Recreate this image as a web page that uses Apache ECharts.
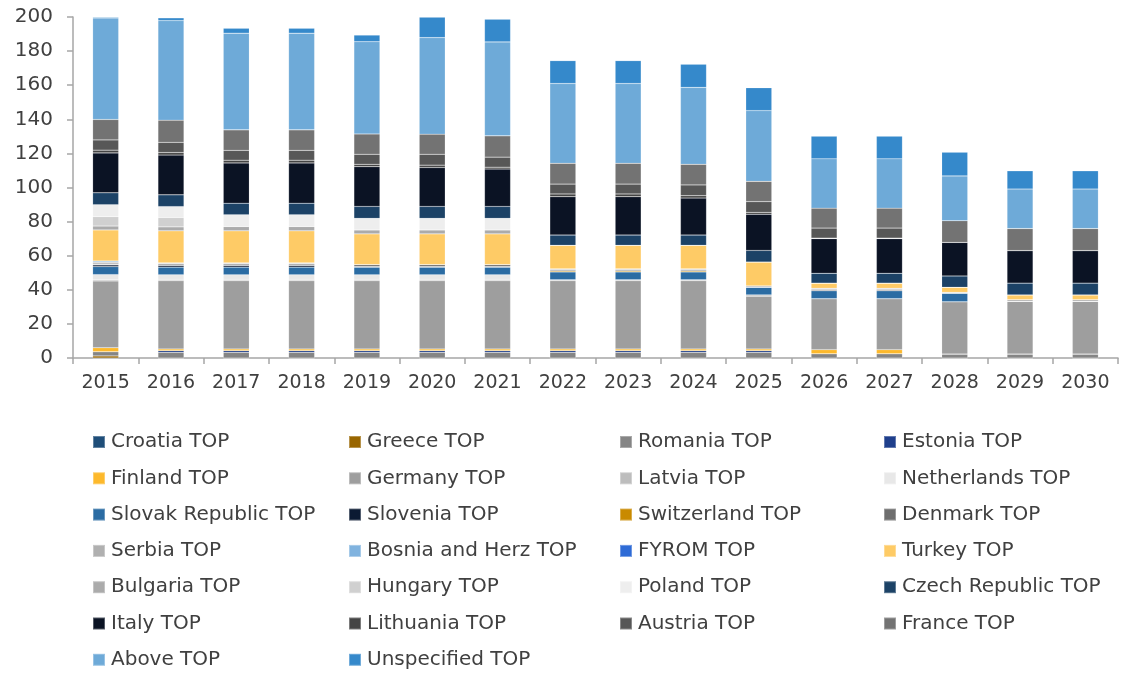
<!DOCTYPE html>
<html>
<head>
<meta charset="utf-8">
<script src="https://cdn.jsdelivr.net/npm/echarts@6/dist/echarts.min.js"></script>
<style>html,body{margin:0;padding:0;background:#fff}#c{width:1121px;height:673px}</style>
</head>
<body>
<div id="c"></div>
<script>
const years = ['2015','2016','2017','2018','2019','2020','2021','2022','2023','2024','2025','2026','2027','2028','2029','2030'];
const yTicks = [0,20,40,60,80,100,120,140,160,180,200];

const croatia      = [0,0,0,0,0,0,0,0,0,0,0,0,0,0,0,0];
const greece       = [1.2,0,0,0,0,0,0,0,0,0,0,0,0,0,0,0];
const romania      = [2.5,3.3,3.3,3.3,3.3,3.3,3.3,3.3,3.3,3.3,3.3,2.5,2.5,2.3,2.3,2.3];
const estonia      = [0,1,1,1,1,1,1,1,1,1,1,0,0,0,0,0];
const finland      = [2.3,1,1,1,1,1,1,1,1,1,1,2.4,2.4,0,0,0];
const germany      = [39.2,40,40,40,40,40,40,40,40,40,30.9,29.9,29.9,30.7,30.9,30.9];
const latvia       = [0.8,0.8,0.8,0.8,0.8,0.8,0.8,0.6,0.6,0.6,0.8,0,0,0,0,0];
const netherlands  = [2.9,2.7,2.7,2.7,2.7,2.7,2.7,0,0,0,0,0,0,0,0,0];
const slovak       = [4.7,4.5,4.5,4.5,4.5,4.5,4.5,4.6,4.6,4.6,4.5,4.7,4.7,5,0,0];
const slovenia     = [1,1,1,1,0,0,0,0,0,0,0,0,0,0,0,0];
const switzerland  = [0.3,0.3,0.3,0.3,0.3,0.3,0.3,0.6,0.6,0.6,0,0,0,0,0,0];
const denmark      = [0.7,0.7,0.7,0.7,1.2,1.2,1.2,0.6,0.6,0.6,0,0.7,0.7,0,0,0];
const serbia       = [0.6,0.5,0.5,0.5,0,0,0,0.6,0.6,0.6,0.8,0.7,0.7,0.5,1,1];
const bosnia       = [0.7,0,0,0,0,0,0,0,0,0,0,0,0,0,0,0];
const fyrom        = [0,0,0,0,0,0,0,0,0,0,0,0,0,0,0,0];
const turkey       = [18.2,18.8,18.8,18.8,18,18,18,13.8,13.8,13.8,14,3,3,3,2.8,2.8];
const bulgaria     = [2.3,2.3,2.5,2.5,2.3,2.3,2.3,0,0,0,0,0,0,0,0,0];
const hungary      = [5.5,5.5,0,0,0,0,0,0,0,0,0,0,0,0,0,0];
const poland       = [7,6.4,6.9,6.9,6.8,6.8,6.8,0,0,0,0,0,0,0,0,0];
const czech        = [7,6.9,6.8,6.8,7,7,7,6,6,6,6.8,5.8,5.8,6.6,6.9,6.9];
const italy        = [23.4,23.3,23.6,23.6,23.3,22.8,21.9,22.5,22.5,21.7,21.2,20.3,20.3,19.7,19.1,19.1];
const lithuania    = [1.6,1.5,1.6,1.6,1.4,1.4,1.1,1.6,1.6,1.4,1.1,0.3,0.3,0,0,0];
const austria      = [6,6,5.8,5.8,5.9,6.4,5.9,5.8,5.8,6.3,6.3,5.9,5.9,0,0,0];
const france       = [12,13,12,12,11.9,11.8,12.5,12.2,12.2,12.1,11.9,11.7,11.7,12.7,12.9,12.9];
const above        = [59.5,58.4,56.7,56.7,54.1,56.6,55.1,46.8,46.8,45.1,41.5,28.9,28.9,26.3,23.2,23.2];
const unspecified  = [0.5,1.6,2.9,2.9,3.9,12,13.3,13.4,13.4,13.6,13.4,13.3,13.3,13.9,10.7,10.7];

const seriesNames = ['Croatia TOP','Greece TOP','Romania TOP','Estonia TOP','Finland TOP','Germany TOP','Latvia TOP','Netherlands TOP','Slovak Republic TOP','Slovenia TOP','Switzerland TOP','Denmark TOP','Serbia TOP','Bosnia and Herz TOP','FYROM TOP','Turkey TOP','Bulgaria TOP','Hungary TOP','Poland TOP','Czech Republic TOP','Italy TOP','Lithuania TOP','Austria TOP','France TOP','Above TOP','Unspecified TOP'];
const seriesData = [croatia,greece,romania,estonia,finland,germany,latvia,netherlands,slovak,slovenia,switzerland,denmark,serbia,bosnia,fyrom,turkey,bulgaria,hungary,poland,czech,italy,lithuania,austria,france,above,unspecified];
const colors = ['#1f4e79','#996600','#858585','#1f3f8c','#fdb92c','#9e9e9e','#bdbdbd','#e8e8e8','#2b6ca3','#0b1a33','#c98a00','#6e6e6e','#b0b0b0','#80b3df','#2e6bd6','#fecb66','#ababab','#d0d0d0','#eeeeee','#1c4266','#0b1324','#444444','#575757','#737373','#6eaad8','#3589cb'];

const FONT = 'DejaVu Sans';
const series = seriesNames.map((n,i)=>({
  name:n, type:'bar', stack:'total', data:seriesData[i], barWidth:26,
  itemStyle:{color:colors[i], borderColor:'rgba(255,255,255,0.3)', borderWidth:0.5},
  emphasis:{disabled:true}
}));

const colLefts = [92,348,619,883];
const legends = colLefts.map((left,c)=>({
  orient:'vertical', left:left, top:432,
  itemWidth:12, itemHeight:12, itemGap:16.3,
  icon:'rect',
  data:seriesNames.filter((_,i)=>i%4===c),
  textStyle:{fontFamily:FONT, fontSize:20, color:'#404040', lineHeight:20, padding:[0,0,0,1]},
  padding:0, selectedMode:false
}));

const chart = echarts.init(document.getElementById('c'), null, {renderer:'canvas'});
chart.setOption({
  animation:false,
  color:colors,
  grid:{left:73, right:3, top:17, bottom:315, containLabel:false},
  legend:legends,
  xAxis:{
    type:'category', data:years,
    axisLine:{lineStyle:{color:'#a6a6a6', width:1.5}},
    axisTick:{show:true, length:6, lineStyle:{color:'#a6a6a6', width:1.5}},
    axisLabel:{fontFamily:FONT, fontSize:19, color:'#404040', margin:16, interval:0, hideOverlap:false}
  },
  yAxis:{
    type:'value', min:0, max:200, interval:20,
    axisLine:{show:true, lineStyle:{color:'#a6a6a6', width:1.5}},
    axisTick:{show:true, length:6, lineStyle:{color:'#a6a6a6', width:1.5}},
    splitLine:{show:false},
    axisLabel:{fontFamily:FONT, fontSize:20, color:'#404040', margin:20,
      formatter:v=>yTicks.includes(v)?String(v):''}
  },
  series:series
});
</script>
</body>
</html>
